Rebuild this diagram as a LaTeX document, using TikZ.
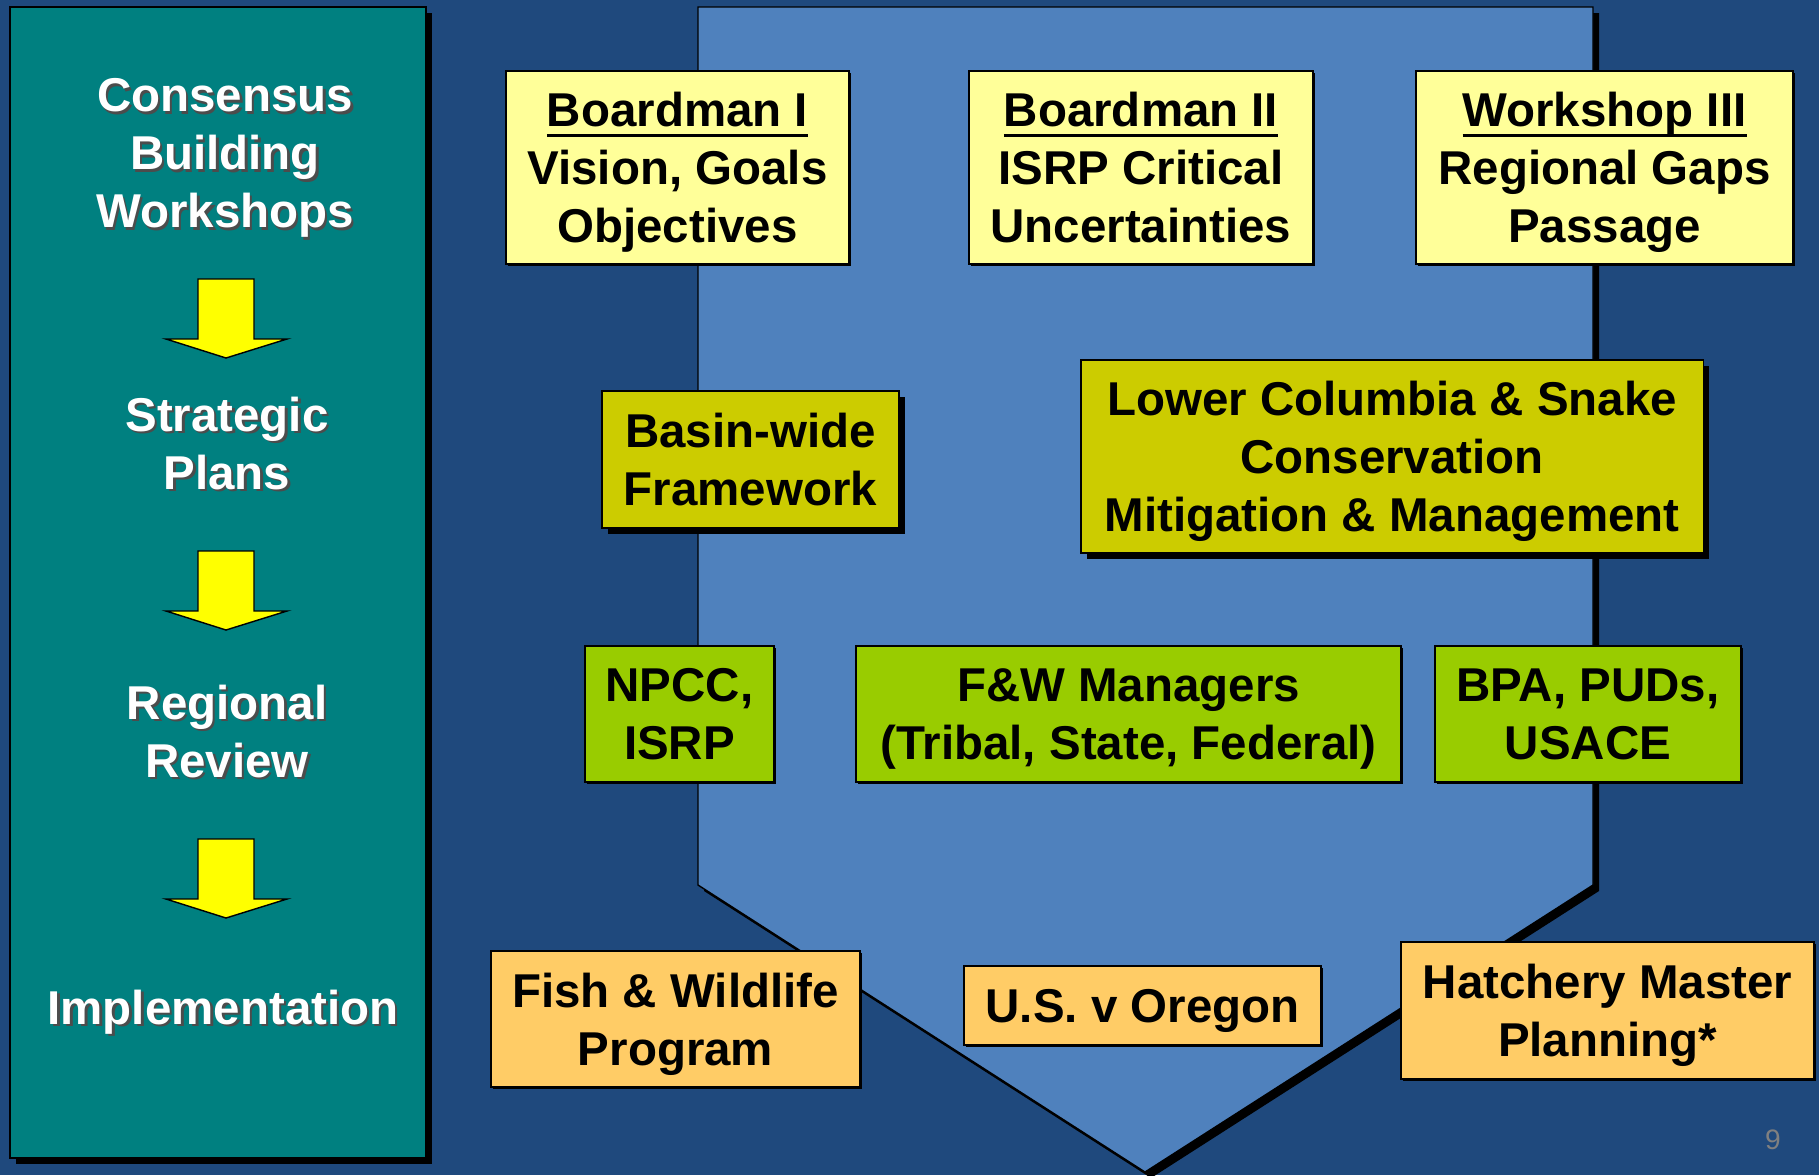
\documentclass[tikz,border=0pt]{standalone}
\usepackage{fontspec}
\setmainfont{Liberation Sans}
\usepackage{tikz}
\usetikzlibrary{shadows}
\definecolor{slidebg}{RGB}{31,73,125}
\definecolor{panelteal}{RGB}{0,128,128}
\definecolor{chevblue}{RGB}{79,129,189}
\definecolor{paleyellow}{RGB}{255,255,153}
\definecolor{oliveyellow}{RGB}{204,204,0}
\definecolor{limegreen}{RGB}{153,204,0}
\definecolor{lightorange}{RGB}{255,204,102}
\definecolor{arrowyellow}{RGB}{255,255,0}
\newcommand{\boxfont}{\fontsize{13.5}{16.5}\selectfont\bfseries}
\newcommand{\hdline}[1]{\setbox0\hbox{#1}\rlap{\rule[-2.8pt]{\wd0}{0.8pt}}\box0}
\newcommand{\shtxt}[1]{\leavevmode\rlap{\hspace{0.7pt}\raisebox{-0.7pt}{\color{black!70}#1}}#1}
\tikzset{
  wbox/.style={
    rectangle, draw=black, thin, align=center, inner sep=2pt, text depth=0pt, font=\boxfont,
  },
  style pale/.style={
    wbox, fill=paleyellow,
    drop shadow={shadow xshift=0.6pt, shadow yshift=-0.6pt, fill=black, opacity=1},
  },
  style olive/.style={
    wbox, fill=oliveyellow,
    drop shadow={shadow xshift=1.7pt, shadow yshift=-1.7pt, fill=black, opacity=1},
  },
  style lime/.style={
    wbox, fill=limegreen,
    drop shadow={shadow xshift=0.6pt, shadow yshift=-0.6pt, fill=black, opacity=1},
  },
  style orange/.style={
    wbox, fill=lightorange,
    drop shadow={shadow xshift=0.6pt, shadow yshift=-0.6pt, fill=black, opacity=1},
  },
  sidetext/.style={
    align=center, text=white, inner sep=0pt, text depth=0pt, font=\boxfont,
  }
}

\begin{document}
\begin{tikzpicture}[x=0.01cm,y=-0.01cm]
    \fill[slidebg] (0,0) rectangle (1819,1175);
    \useasboundingbox (0,0) rectangle (1819,1175);
    % left panel
    \fill[black] (16,13) rectangle (432,1164);
    \draw[fill=panelteal] (10,7) rectangle (426,1158);
    % chevron
    \fill[black] (704,13) -- (1599,13) -- (1599,891) -- (1151,1178) -- (704,891) -- cycle;
    \draw[fill=chevblue] (698,7) -- (1593,7) -- (1593,885) -- (1145,1172) -- (698,885) -- cycle;
    \foreach \t in {279,551,839}
        \draw[fill=arrowyellow, line join=miter] (198,\t) -- (254,\t) -- (254,\t+60) -- (287,\t+60)
            -- (226,\t+79) -- (166,\t+60) -- (198,\t+60) -- cycle;
    \begin{scope}[every node/.style={sidetext}]
        \node (cbw) at (225,153) {\shtxt{Consensus}\\\shtxt{Building}\\\shtxt{Workshops}};
        \node (strat) at (227,443) {\shtxt{Strategic}\\\shtxt{Plans}};
        \node (review) at (227,731) {\shtxt{Regional}\\\shtxt{Review}};
        \node (impl) at (223,1007) {\shtxt{Implementation}};
    \end{scope}
    \begin{scope}[every node/.style={minimum height=1.93cm}]
        \node[style pale, minimum width=3.43cm] (bdm1) at (677.5,167.5) {\hdline{Boardman I}\\Vision, Goals\\Objectives};
        \node[style pale, minimum width=3.44cm] (bdm2) at (1141,167.5) {\hdline{Boardman II}\\ISRP Critical\\Uncertainties};
        \node[style pale, minimum width=3.77cm] (ws3) at (1604.5,167.5) {\hdline{Workshop III}\\Regional Gaps\\Passage};
        \node[style olive, minimum width=6.22cm] (lcs) at (1392,456.5) {Lower Columbia \& Snake\\Conservation\\Mitigation \& Management};
    \end{scope}
    \node[style olive, minimum width=2.97cm, minimum height=1.37cm] (basin) at (750.5,459.5) {Basin-wide\\Framework};
    \begin{scope}[every node/.style={minimum height=1.36cm}]
        \node[style lime, minimum width=1.89cm] (npcc) at (679.5,714) {NPCC,\\ISRP};
        \node[style lime, minimum width=5.45cm] (fwm) at (1128.5,714) {F\&W Managers\\(Tribal, State, Federal)};
        \node[style lime, minimum width=3.06cm] (bpa) at (1588,714) {BPA, PUDs,\\USACE};
        \node[style orange, minimum width=3.69cm] (fwp) at (675.5,1019) {Fish \& Wildlife\\Program};
        \node[style orange, minimum width=4.13cm, minimum height=1.37cm] (hmp) at (1607.5,1010.5) {Hatchery Master\\Planning*};
    \end{scope}
    \node[style orange, minimum width=3.57cm, minimum height=0.79cm] (usv) at (1142.5,1005.5) {U.S. v Oregon};
    \node[text=gray, font=\fontsize{8}{9}\selectfont] (pg) at (1773,1140) {9};
\end{tikzpicture}
\end{document}
